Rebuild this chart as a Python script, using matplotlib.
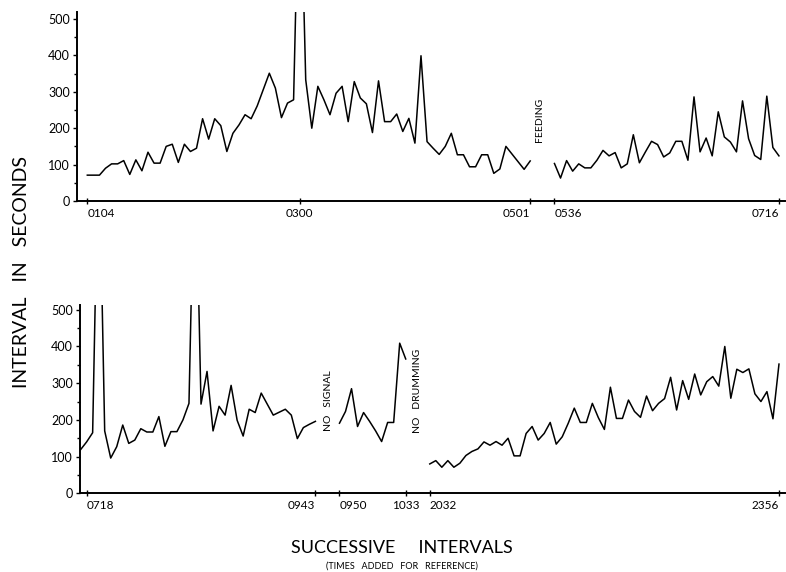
import matplotlib
matplotlib.use('Agg')
from matplotlib import pyplot as plt
from matplotlib.ticker import MultipleLocator
import numpy as np

plt.rcParams['font.family'] = ['Lato', 'DejaVu Sans']

# upper panel: intervals from 0104 to 0501, then after feeding 0536 to 0716
top_a_start = 0
top_a = [71, 71, 71, 90, 102, 102, 111, 73, 113, 83,
         134, 104, 104, 150, 156, 106, 156, 136, 145, 226,
         170, 226, 207, 136, 186, 209, 237, 226, 261, 306,
         351, 310, 229, 269, 278, 1000, 333, 200, 315, 278,
         237, 296, 315, 218, 328, 283, 267, 188, 330, 218,
         218, 239, 191, 227, 159, 399, 163, 145, 128, 150,
         186, 127, 127, 94, 94, 127, 127, 76, 88, 150,
         129, 108, 87, 110]
top_b_start = 77
top_b = [103, 63, 111, 82, 102, 91, 91, 112, 139, 124,
         133, 91, 102, 182, 105, 135, 164, 155, 121, 132,
         164, 164, 112, 286, 135, 173, 124, 245, 176, 162,
         135, 275, 171, 125, 114, 288, 147, 124]
top_ticks = [0, 35, 73, 77, 114]
top_labels = ['0104', '0300', '0501', '0536', '0716']
top_align = ['left', 'center', 'right', 'left', 'right']

# lower panel: 0718-0943, 0950-1033, 2032-2356
bot_a_start = 0
bot_a = [119, 140, 165, 1000, 170, 96, 127, 186, 136, 145,
         176, 167, 167, 209, 128, 168, 168, 200, 245, 1000,
         243, 332, 170, 237, 213, 294, 199, 156, 229, 220,
         273, 243, 213, 221, 229, 213, 149, 179, 188, 196]
bot_b_start = 43
bot_b = [191, 223, 285, 182, 220, 196, 170, 141, 193, 193, 409, 366]
bot_c_start = 58
bot_c = [80, 89, 71, 89, 71, 82, 103, 114, 121, 140,
         131, 141, 131, 150, 102, 102, 163, 182, 145, 163,
         193, 134, 154, 191, 232, 193, 193, 245, 206, 174,
         289, 204, 204, 254, 223, 207, 265, 225, 245, 258,
         316, 227, 307, 256, 325, 268, 304, 318, 292, 400,
         259, 338, 329, 339, 271, 250, 277, 203, 352]
bot_ticks = [1, 39, 43, 54, 58, 116]
bot_labels = ['0718', '0943', '0950', '1033', '2032', '2356']
bot_align = ['left', 'right', 'left', 'center', 'left', 'right']


def style_axis(ax, xlim, ylim, ticks, labels, align):
    ax.set_xlim(xlim)
    ax.set_ylim(ylim)
    for s in ['top', 'right']:
        ax.spines[s].set_visible(False)
    for s in ['left', 'bottom']:
        ax.spines[s].set_linewidth(1.4)
    ax.set_yticks(range(0, 501, 100))
    ax.yaxis.set_minor_locator(MultipleLocator(50))
    ax.tick_params(axis='y', which='major', direction='out', length=3, width=1, labelsize=9, pad=2)
    ax.tick_params(axis='y', which='minor', direction='out', length=2, width=1)
    ax.set_xticks(ticks)
    ax.set_xticklabels(labels)
    ax.tick_params(axis='x', direction='inout', length=4, width=1, labelsize=8.5, pad=3)
    for lab, ha in zip(ax.get_xticklabels(), align):
        lab.set_ha(ha)


def plot_seg(ax, start, vals):
    x = np.arange(start, start + len(vals))
    ax.plot(x, vals, '-', color='black', linewidth=1.1)


fig = plt.figure(figsize=(7.86, 5.72), dpi=100)

ax1 = fig.add_axes([77 / 786, 1 - 201 / 572, 708 / 786, 189.3 / 572])
plot_seg(ax1, top_a_start, top_a)
plot_seg(ax1, top_b_start, top_b)
style_axis(ax1, (-1.7, 115), (0, 520), top_ticks, top_labels, top_align)
ax1.text(74.6, 222, 'FEEDING', rotation=90, ha='center', va='center', fontsize=7.5)

ax2 = fig.add_axes([80 / 786, 1 - 493.3 / 572, 705 / 786, 188.3 / 572])
plot_seg(ax2, bot_a_start, bot_a)
plot_seg(ax2, bot_b_start, bot_b)
plot_seg(ax2, bot_c_start, bot_c)
style_axis(ax2, (-0.1, 117), (0, 513), bot_ticks, bot_labels, bot_align)
ax2.text(41.1, 252, 'NO   SIGNAL', rotation=90, ha='center', va='center', fontsize=7.5)
ax2.text(56.0, 279, 'NO   DRUMMING', rotation=90, ha='center', va='center', fontsize=7.5)

fig.text(22 / 786, 1 - 272 / 572, 'INTERVAL   IN   SECONDS', rotation=90,
         ha='center', va='center', fontsize=14)
fig.text(402 / 786, 1 - 548 / 572, 'SUCCESSIVE     INTERVALS', ha='center', va='center', fontsize=13)
fig.text(402 / 786, 1 - 566 / 572, '(TIMES   ADDED   FOR   REFERENCE)', ha='center', va='center', fontsize=6.5)

fig.savefig('out.png', dpi=100)
